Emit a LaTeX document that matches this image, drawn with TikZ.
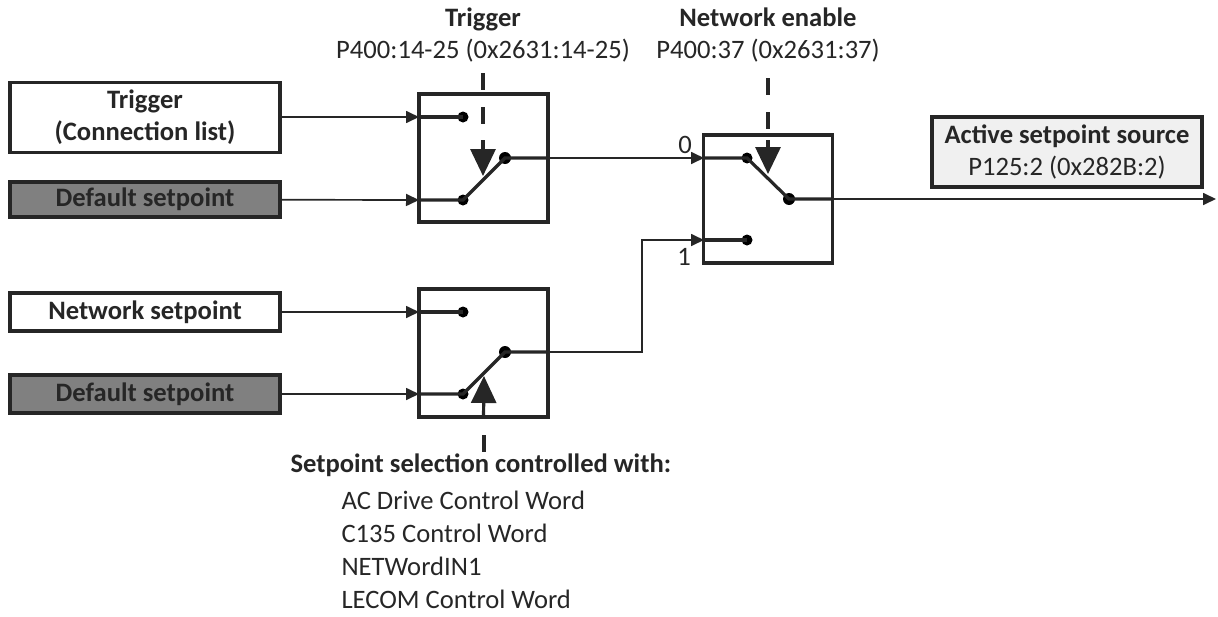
\documentclass[tikz,border=0pt]{standalone}
\usepackage{fontspec}
\setmainfont{Carlito}
\usepackage{tikz}
\usetikzlibrary{arrows.meta, positioning}

\definecolor{linegray}{HTML}{262626}
\definecolor{boxgray}{HTML}{808080}
\definecolor{lightbox}{HTML}{F0F0F0}

\begin{document}
\begin{tikzpicture}[x=1pt, y=-1pt,
    every node/.style={text=linegray, font=\fontsize{26.6}{32}\selectfont},
    srcbox/.style={rectangle, draw=linegray, line width=3.5pt, minimum width=270pt, align=center, font=\fontsize{26.6}{32}\selectfont\bfseries, inner sep=0pt},
    defbox/.style={srcbox, fill=boxgray, minimum height=35pt},
    swbox/.style={rectangle, draw=linegray, line width=3.5pt, minimum width=129pt, minimum height=128pt, inner sep=0pt},
    pin/.style={circle, fill=black, minimum size=11pt, inner sep=0pt},
    arrow/.style={-{Triangle[length=13pt, width=12pt]}, draw=linegray, line width=1.7pt},
    wire/.style={draw=linegray, line width=3.2pt},
    ctrl/.style={draw=linegray, line width=3.2pt, dash pattern=on 17pt off 17pt},
    ctrlarrow/.style={-{Triangle[length=27pt, width=25pt]}, draw=linegray, line width=3.2pt}]

    \useasboundingbox (0,0) rectangle (1218,616);

    % input sources
    \node (trig) [srcbox, minimum height=70pt] at (145,117.5) {Trigger\\(Connection list)};
    \node (def1) [defbox] at (145,199.5) {Default setpoint};
    \node (net) [srcbox, minimum height=38pt] at (145,312) {Network setpoint};
    \node (def2) [defbox, minimum height=38pt] at (145,394) {Default setpoint};

    % switches
    \node (sw1) [swbox] at (483.5,158) {};
    \node (sw2) [swbox] at (768,199) {};
    \node (sw3) [swbox] at (483.5,353) {};

    % switch contacts
    \node (sw1a) [pin] at (463,117) {};
    \node (sw1b) [pin] at (463,200) {};
    \node (sw1o) [pin, minimum size=12pt] at (505,158) {};
    \node (sw2a) [pin] at (747,158) {};
    \node (sw2b) [pin] at (747,240) {};
    \node (sw2o) [pin, minimum size=12pt] at (789,199) {};
    \node (sw3a) [pin] at (463,312) {};
    \node (sw3b) [pin] at (463,394) {};
    \node (sw3o) [pin, minimum size=12pt] at (505,352) {};

    \coordinate (sw1in1) at (419,117);
    \coordinate (sw1in2) at (419,200);
    \coordinate (sw1out) at (548,158);
    \coordinate (sw2in1) at (704,158);
    \coordinate (sw2in2) at (704,240);
    \coordinate (sw2out) at (832,199);
    \coordinate (sw3in1) at (419,312);
    \coordinate (sw3in2) at (419,394);
    \coordinate (sw3out) at (548,352);
    \coordinate (bend) at (642,352);
    \coordinate (outend) at (1216,199);

    % output
    \node (act) [srcbox, fill=lightbox, minimum height=70pt] at (1067,152) {Active setpoint source\\\mdseries P125:2 (0x282B:2)};

    % control labels
    \node (trigtxt) [align=center] at (483,35) {\textbf{Trigger}\\P400:14-25 (0x2631:14-25)};
    \node (nettxt) [align=center] at (768,35) {\textbf{Network enable}\\P400:37 (0x2631:37)};
    \node (seltxt) [align=left, anchor=north west, font=\fontsize{26.6}{33}\selectfont] at (287,450) {\textbf{Setpoint selection controlled with:}\\[4pt]
        \hspace*{51pt}AC Drive Control Word\\
        \hspace*{51pt}C135 Control Word\\
        \hspace*{51pt}NETWordIN1\\
        \hspace*{51pt}LECOM Control Word};

    \node (lab0) at (685,145) {0};
    \node (lab1) at (684,257) {1};

    % inputs
    \draw [arrow] (trig.east |- sw1in1) -- (sw1in1);
    \draw [arrow] (def1) -- (sw1in2);
    \draw [arrow] (net) -- (sw3in1);
    \draw [arrow] (def2) -- (sw3in2);
    \draw [wire] (sw1in1) -- (sw1a.center);
    \draw [wire] (sw1in2) -- (sw1b.center) -- (sw1o.center) -- (sw1out);
    \draw [wire] (sw3in1) -- (sw3a.center);
    \draw [wire] (sw3in2) -- (sw3b.center) -- (sw3o.center) -- (sw3out);
    \draw [wire] (sw2in1) -- (sw2a.center) -- (sw2o.center) -- (sw2out);
    \draw [wire] (sw2in2) -- (sw2b.center);

    % connections between switches
    \draw [arrow] (sw1out) -- (sw2in1);
    \draw [arrow] (sw3out) -- (bend) |- (sw2in2);
    \draw [arrow] (sw2out) -- (outend);

    % control lines
    \draw [ctrl] (483,73) -- (483,140);
    \draw [ctrlarrow] (483,140) -- (483,176);
    \draw [ctrl] (768,78) -- (768,140);
    \draw [ctrlarrow] (768,140) -- (768,174);
    \draw [ctrlarrow] (sw3.south) -- (484,376);
    \draw [ctrl] (484,435) -- (484,452);
\end{tikzpicture}
\end{document}
